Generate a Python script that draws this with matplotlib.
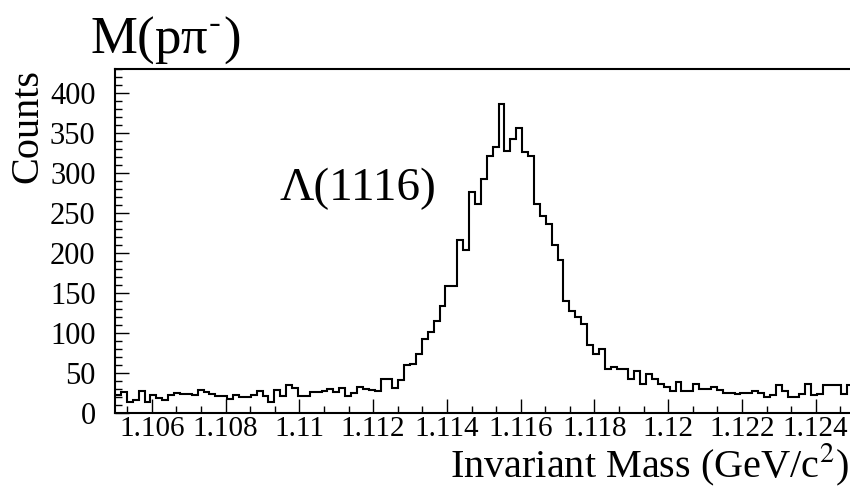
import numpy as np
import matplotlib.pyplot as plt
from matplotlib.ticker import MultipleLocator

plt.rcParams['font.family'] = ['Liberation Serif', 'DejaVu Serif']
plt.rcParams['mathtext.fontset'] = 'stix'

# binning of the p pi- mass histogram
mass_lo = 1.105
mass_hi = 1.125
n_bins = 125

counts = [23, 27, 14, 17, 28, 14, 23, 19, 17, 23, 26, 24, 24, 23, 29, 27,
          24, 22, 22, 18, 23, 21, 21, 23, 28, 22, 14, 29, 22, 35, 32, 22,
          22, 27, 27, 28, 30, 27, 32, 22, 25, 33, 30, 29, 28, 43, 43, 32,
          42, 60, 62, 74, 93, 102, 116, 134, 159, 159, 216, 204, 276, 262,
          293, 322, 333, 387, 328, 343, 356, 326, 321, 261, 247, 236, 210,
          192, 141, 128, 120, 112, 85, 74, 80, 56, 58, 56, 56, 43, 53, 37,
          49, 43, 37, 33, 28, 39, 28, 28, 37, 30, 30, 33, 29, 25, 25, 24,
          25, 25, 28, 25, 21, 23, 35, 28, 21, 21, 24, 37, 23, 24, 36, 36,
          35, 24, 36]

x_ticks = [1.106, 1.108, 1.11, 1.112, 1.114, 1.116, 1.118, 1.12, 1.122, 1.124]
x_tick_labels = ['1.106', '1.108', '1.11', '1.112', '1.114', '1.116',
                 '1.118', '1.12', '1.122', '1.124']
y_ticks = [0, 50, 100, 150, 200, 250, 300, 350, 400]

edges = np.linspace(mass_lo, mass_lo + n_bins * 0.00016, n_bins + 1)

W, H = 850, 486
fig = plt.figure(figsize=(W / 100, H / 100), dpi=100)
ax = fig.add_axes([115 / W, 1 - 413.3 / H, (852.6 - 115) / W, (413.3 - 69.3) / H])

ax.stairs(counts, edges, baseline=None, color='black', linewidth=1.5)

ax.set_xlim(mass_lo, mass_hi)
ax.set_ylim(0, 430)

ax.set_xticks(x_ticks, labels=x_tick_labels)
ax.set_yticks(y_ticks)
ax.xaxis.set_minor_locator(MultipleLocator(0.002 / 3))
ax.yaxis.set_minor_locator(MultipleLocator(10))
ax.tick_params(which='both', direction='in', top=False, right=False, width=1.0)
ax.tick_params(which='major', length=10)
ax.tick_params(which='minor', length=5)
ax.tick_params(axis='x', labelsize=21, pad=2)
ax.tick_params(axis='y', labelsize=22, pad=14)
for s in ax.spines.values():
    s.set_linewidth(1.5)

ax.text(1.10946, 266, 'Λ(1116)', fontsize=34, ha='left', va='baseline')

fig.text(90 / W, 1 - 52.7 / H, r'M(pπ$^{\text{-}}$)', fontsize=38, ha='left', va='baseline')
fig.text(28 / W, 1 - 69 / H, 'Counts', fontsize=29, rotation=90,
         ha='center', va='top')
fig.text(849 / W, 1 - 477 / H, 'Invariant Mass (GeV/c$^{2}$)', fontsize=29,
         ha='right', va='baseline')

fig.savefig('out.png', dpi=100, facecolor='white')
